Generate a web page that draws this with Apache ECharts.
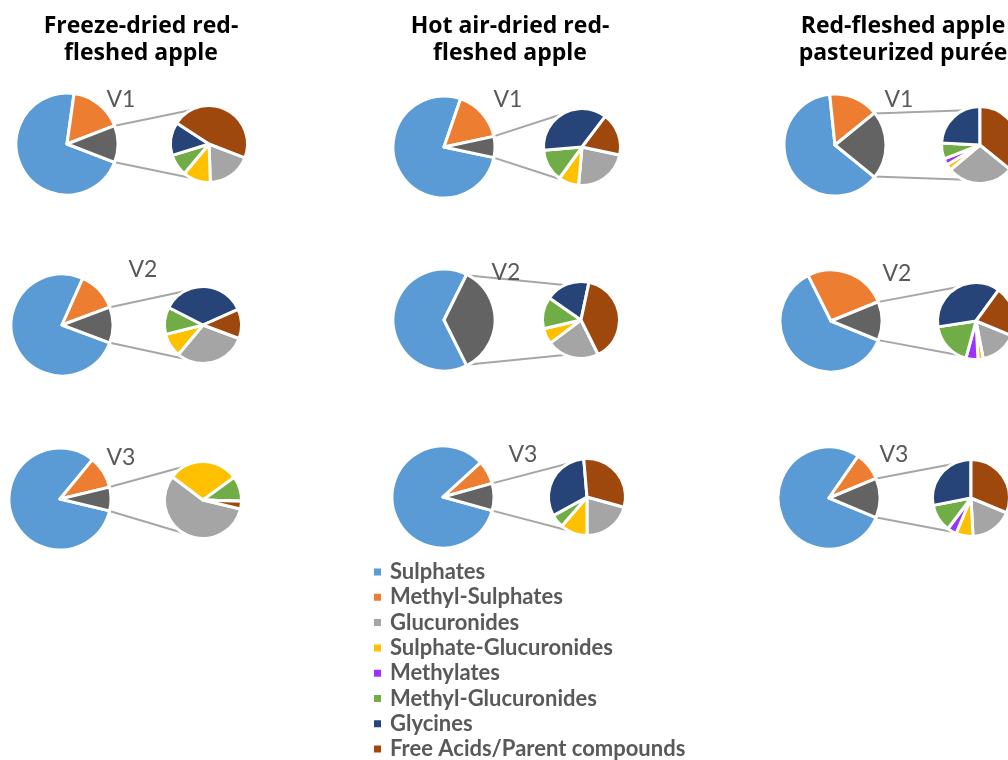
<!DOCTYPE html>
<html>
<head>
<meta charset="utf-8">
<script src="https://cdn.jsdelivr.net/npm/echarts@6/dist/echarts.min.js"></script>
<style>
  html, body { margin: 0; padding: 0; background: #ffffff; }
  #chart { width: 1008px; height: 760px; }
</style>
</head>
<body>
<div id="chart"></div>
<script>
// Metabolite class composition (% of total) for three red-fleshed apple products
// at three visits; each panel is a pie-of-pie: the small pie breaks down the
// dark-grey "other" wedge of the large pie.

const categories = [
  'Sulphates', 'Methyl-Sulphates', 'Glucuronides', 'Sulphate-Glucuronides',
  'Methylates', 'Methyl-Glucuronides', 'Glycines', 'Free Acids/Parent compounds'
];
const products = [
  ['Freeze-dried red-', 'fleshed apple'],
  ['Hot air-dried red-', 'fleshed apple'],
  ['Red-fleshed apple', 'pasteurized purée']
];
const visits = ['V1', 'V2', 'V3'];

// One row per product, one value per visit [V1, V2, V3]
const sulphates          = [[71.39, 75.97, 82.22], [76.94, 64.72, 83.89], [62.50, 61.42, 78.42]];
const methylSulphates    = [[16.94, 12.64, 10.28], [16.39,  0.00,  7.50], [15.83, 26.25,  9.08]];
const glucuronides       = [[ 2.17,  3.46,  4.24], [ 1.54,  7.79,  1.78], [ 6.08,  1.95,  2.24]];
const sulphGlucuronides  = [[ 1.36,  1.14,  2.23], [ 0.57,  2.35,  0.98], [ 0.54,  0.27,  0.90]];
const methylates         = [[ 0.00,  0.00,  0.00], [ 0.00,  0.00,  0.00], [ 0.60,  0.62,  0.49]];
const methylGlucuronides = [[ 1.07,  1.30,  0.79], [ 0.91,  4.70,  0.48], [ 1.44,  2.26,  1.46]];
const glycines           = [[ 1.62,  4.08,  0.00], [ 2.45,  6.57,  2.73], [ 5.24,  4.62,  3.51]];
const freeAcids          = [[ 5.45,  1.41,  0.24], [ 1.20, 13.87,  2.64], [ 7.77,  2.60,  3.91]];

const colors = {
  'Sulphates': '#5B9BD5',
  'Methyl-Sulphates': '#ED7D31',
  'Glucuronides': '#A5A5A5',
  'Sulphate-Glucuronides': '#FFC000',
  'Methylates': '#9933FF',
  'Methyl-Glucuronides': '#70AD47',
  'Glycines': '#264478',
  'Free Acids/Parent compounds': '#9E480E',
  'Other': '#636363'
};

// Panel layout (pixel positions of each pie pair and its visit label)
const mainCenters = [
  [[67, 144], [62, 325], [60, 499]],
  [[444, 147], [444, 320], [443, 497]],
  [[835, 145], [831, 321], [829, 498]]
];
const subCenters = [
  [[209, 144], [203, 325], [203, 500]],
  [[582, 147], [581, 320], [587, 497]],
  [[980, 145], [976, 321], [971, 498]]
];
const visitLabelPos = [
  [[121, 100], [143, 270], [121, 458]],
  [[508, 100], [506, 273], [523, 455]],
  [[899, 100], [897, 274], [894, 455]]
];
const titleX = [141, 510, 903];
const titleY = [26, 53];

const MAIN_R = 51, SUB_R = 38.5;          // drawn radii (white border eats ~1.5px)
const MAIN_EDGE = 50, SUB_EDGE = 37.5;    // where the connector lines touch
const SUB_ATTACH = 112;                   // angle (deg) of connector contact on small pie
const BORDER = 3;

const series = [];
const graphics = [];

const pieBase = {
  type: 'pie',
  clockwise: true,
  silent: true,
  animation: false,
  label: { show: false },
  labelLine: { show: false },
  emphasis: { disabled: true },
  itemStyle: { borderColor: '#ffffff', borderWidth: BORDER }
};

for (let p = 0; p < products.length; p++) {
  for (let v = 0; v < visits.length; v++) {
    const subNames = categories.slice(2);
    const subVals = [
      glucuronides[p][v], sulphGlucuronides[p][v], methylates[p][v],
      methylGlucuronides[p][v], glycines[p][v], freeAcids[p][v]
    ];
    const other = subVals.reduce((a, b) => a + b, 0);
    const total = sulphates[p][v] + methylSulphates[p][v] + other;
    const half = other / total * 180;             // half-angle of the "other" wedge
    const start = (360 - half) % 360;

    series.push(Object.assign({}, pieBase, {
      name: products[p].join(' ') + ' ' + visits[v],
      center: mainCenters[p][v],
      radius: MAIN_R,
      startAngle: start,
      data: [
        { name: 'Sulphates', value: sulphates[p][v], itemStyle: { color: colors['Sulphates'] } },
        { name: 'Methyl-Sulphates', value: methylSulphates[p][v], itemStyle: { color: colors['Methyl-Sulphates'] } },
        { name: 'Other', value: other, itemStyle: { color: colors['Other'] } }
      ]
    }));

    series.push(Object.assign({}, pieBase, {
      name: products[p].join(' ') + ' ' + visits[v] + ' detail',
      center: subCenters[p][v],
      radius: SUB_R,
      startAngle: start,
      data: subNames.map((n, i) => ({ name: n, value: subVals[i], itemStyle: { color: colors[n] } }))
    }));

    // connector lines between the "other" wedge and the detail pie
    const [mx, my] = mainCenters[p][v];
    const [sx, sy] = subCenters[p][v];
    const rad = Math.PI / 180;
    [1, -1].forEach(sgn => {
      graphics.push({
        type: 'line',
        silent: true,
        z: -1,
        shape: {
          x1: mx + MAIN_EDGE * Math.cos(half * rad),
          y1: my - sgn * MAIN_EDGE * Math.sin(half * rad),
          x2: sx + SUB_EDGE * Math.cos(SUB_ATTACH * rad),
          y2: sy - sgn * SUB_EDGE * Math.sin(SUB_ATTACH * rad)
        },
        style: { stroke: '#A6A6A6', lineWidth: 2 }
      });
    });

    graphics.push({
      type: 'text',
      silent: true,
      x: visitLabelPos[p][v][0],
      y: visitLabelPos[p][v][1],
      style: {
        text: visits[v],
        font: '23px Lato',
        fill: '#595959',
        align: 'center',
        verticalAlign: 'middle'
      }
    });
  }

  products[p].forEach((line, i) => {
    graphics.push({
      type: 'text',
      silent: true,
      x: titleX[p],
      y: titleY[i],
      style: {
        text: line,
        font: 'bold 23px "Open Sans"',
        fill: '#000000',
        align: 'center',
        verticalAlign: 'middle'
      }
    });
  });
}

const chart = echarts.init(document.getElementById('chart'), null, { renderer: 'canvas' });
chart.setOption({
  backgroundColor: '#ffffff',
  animation: false,
  legend: {
    data: categories,
    orient: 'vertical',
    left: 372,
    top: 561,
    height: 215,
    padding: 0,
    icon: 'rect',
    itemWidth: 9,
    itemHeight: 9,
    itemGap: 3.3,
    selectedMode: false,
    textStyle: {
      fontFamily: 'Lato',
      fontWeight: 'bold',
      fontSize: 22,
      lineHeight: 22,
      color: '#595959',
      padding: [0, 0, 0, 3]
    }
  },
  series: series,
  graphic: graphics
});
</script>
</body>
</html>
